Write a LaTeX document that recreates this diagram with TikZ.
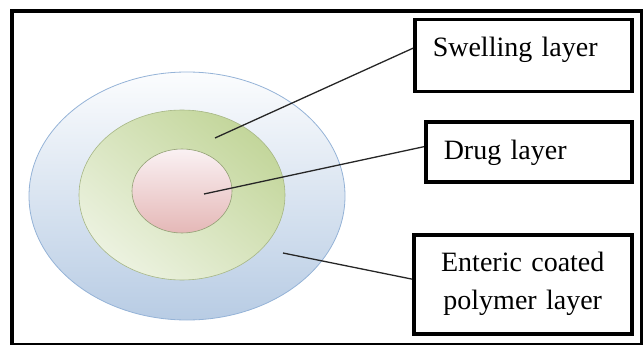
\documentclass[tikz,border=0pt]{standalone}
\usepackage{fontspec}
\setmainfont{Liberation Serif}
\usetikzlibrary{calc}
\definecolor{coatblue}{RGB}{184,204,228}
\definecolor{coatedge}{RGB}{149,179,215}
\definecolor{swellgreen}{RGB}{195,214,155}
\definecolor{swellpale}{RGB}{236,242,224}
\definecolor{drugpink}{RGB}{229,184,183}
\definecolor{drugpale}{RGB}{250,241,243}

\begin{document}
\begin{tikzpicture}[x=1pt,y=-1pt,
  labelbox/.style={draw,line width=3.5pt,inner ysep=0pt,inner xsep=18pt,
    anchor=north west,font=\fontsize{28}{38}\selectfont},
  leader/.style={line width=1.3pt,black!85}]
  \useasboundingbox (0,0) rectangle (643,345);
  \draw[line width=3.5pt] (12,11) rectangle (642,344.5);
  % tablet layers
  \shade[draw=coatedge,line width=0.8pt,top color=coatblue!5,middle color=coatblue!45,bottom color=coatblue]
    (187,196) ellipse [x radius=158,y radius=124];
  \shade[draw=swellgreen!85!black,line width=0.6pt,top color=swellgreen,bottom color=swellpale,shading angle=-40]
    (182,195) ellipse [x radius=103,y radius=85];
  \shade[draw=swellgreen!75!black,line width=0.6pt,top color=drugpale,bottom color=drugpink]
    (182,191) ellipse [x radius=50,y radius=42];
  \coordinate (swellpt) at (215,138);
  \coordinate (drugpt) at (204,194);
  \coordinate (coatpt) at (283,253);
  % labels
  \node[labelbox,text width=181pt,align=left,text height=37pt,text depth=35pt] (swell) at (413,18) {Swelling layer};
  \node[labelbox,text width=170pt,align=left,text height=38pt,text depth=22pt] (drug) at (424,120) {Drug layer};
  \node[labelbox,text width=182pt,align=center,minimum height=99pt] (coat) at (412,233) {Enteric coated\\polymer layer};
  \draw[leader] (swellpt) -- ($(swell.north west)!.4!(swell.south west)$);
  \draw[leader] (drugpt) -- ($(drug.north west)!.42!(drug.south west)$);
  \draw[leader] (coatpt) -- ($(coat.north west)!.45!(coat.south west)$);
\end{tikzpicture}
\end{document}
